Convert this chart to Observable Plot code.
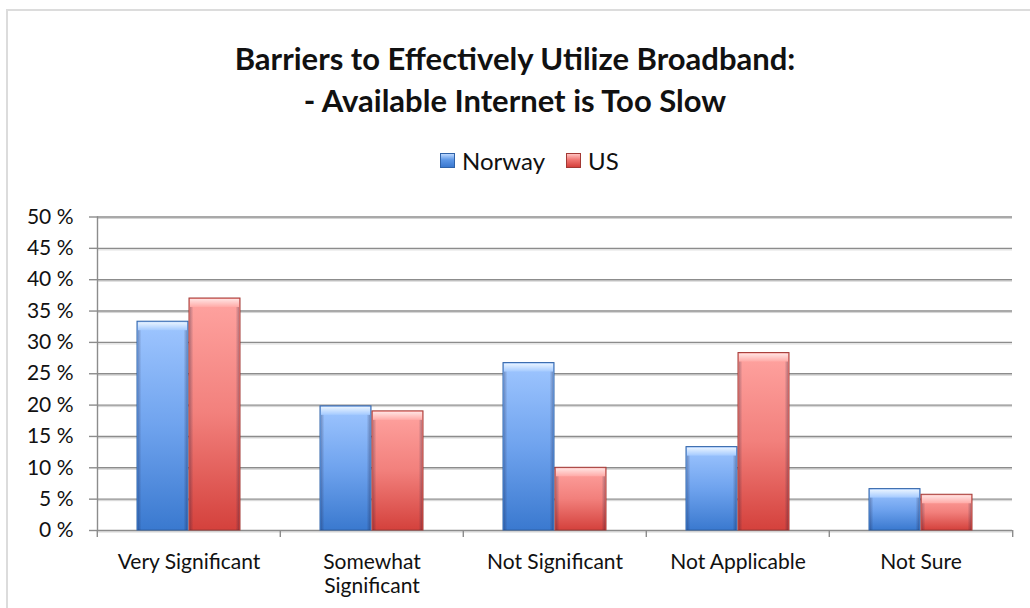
<!DOCTYPE html>
<html>
<head>
<meta charset="utf-8">
<script src="https://cdn.jsdelivr.net/npm/d3@7"></script>
<script src="https://cdn.jsdelivr.net/npm/@observablehq/plot@0.6"></script>
<style>
  html, body { margin: 0; padding: 0; background: #fff; }
  #page { position: relative; width: 1030px; height: 608px; overflow: hidden; font-family: Lato, "Open Sans", sans-serif; color: #111; }
  #border { position: absolute; left: 6px; top: 9px; width: 1100px; height: 700px; border: 2px solid #dcdcdc; box-sizing: border-box; }
  #title { position: absolute; left: 0; top: 37px; width: 1030px; text-align: center; font-weight: 700; font-size: 31px; line-height: 42px; }
  #legend { position: absolute; left: 440px; top: 147px; height: 26px; display: flex; align-items: center; font-size: 24px; }
  .sw { width: 15px; height: 15px; box-sizing: border-box; margin-right: 7px; }
  .sw.n { background: linear-gradient(#bcd8ff, #5d97e6 45%, #3a78cf); border: 1px solid #2f62a8; }
  .sw.u { background: linear-gradient(#ffc2c0, #f07571 45%, #d5403b); border: 1px solid #a23935; margin-left: 21px; }
  #chart { position: absolute; left: 0; top: 0; }
</style>
</head>
<body>
<div id="page">
  <div id="border"></div>
  <div id="title"></div>
  <div id="legend"></div>
  <div id="chart"></div>
</div>
<script>
// ---- data ----
const titleLines = ["Barriers to Effectively Utilize Broadband:", "- Available Internet is Too Slow"];
const categories = ["Very Significant", "Somewhat Significant", "Not Significant", "Not Applicable", "Not Sure"];
const categoryLabels = ["Very Significant", "Somewhat\nSignificant", "Not Significant", "Not Applicable", "Not Sure"];
const countries = ["Norway", "US"];
const norway = [33.3, 19.8, 26.7, 13.3, 6.6];
const us = [37.0, 19.0, 10.0, 28.3, 5.7];
const yTicks = [0, 5, 10, 15, 20, 25, 30, 35, 40, 45, 50];

// ---- table ----
const rows = [];
categories.forEach((c, i) => {
  rows.push({category: c, country: countries[0], value: norway[i]});
  rows.push({category: c, country: countries[1], value: us[i]});
});

// ---- title & legend ----
document.getElementById("title").innerHTML = titleLines.map(t => `<div>${t}</div>`).join("");
document.getElementById("legend").innerHTML =
  `<div class="sw n"></div><span>${countries[0]}</span><div class="sw u"></div><span>${countries[1]}</span>`;

// ---- chart ----
const W = 1030, H = 608, mT = 216.5, mB = 78, mL = 96, mR = 17;
const step = (W - mL - mR) / categories.length;
const axisGray = "#8c8c8c";
const font = "Lato, 'Open Sans', sans-serif";

const isN = d => d.country === countries[0];
const isU = d => d.country === countries[1];

const chart = Plot.plot({
  width: W, height: H,
  marginTop: mT, marginBottom: mB, marginLeft: mL, marginRight: mR,
  style: {fontFamily: font, fontSize: "21px", color: "#111", background: "transparent"},
  fx: {domain: categories, padding: 0, axis: null, label: null},
  x: {domain: countries, paddingInner: 0.02, paddingOuter: 0.74, axis: null},
  y: {domain: [0, 50], axis: null, label: null},
  marks: [
    Plot.gridY(yTicks, {stroke: "#d4d4d4", strokeOpacity: 1, strokeWidth: 1, dy: 1.5}),
    Plot.gridY(yTicks, {stroke: axisGray, strokeOpacity: 1, strokeWidth: 1.4}),
    Plot.frame({anchor: "left", facetAnchor: "left", stroke: axisGray, strokeWidth: 1.4}),
    // bars
    Plot.barY(rows, {filter: isN, fx: "category", x: "country", y: "value", fill: "url(#gN)", stroke: "#2f62a8", strokeWidth: 1}),
    Plot.barY(rows, {filter: isU, fx: "category", x: "country", y: "value", fill: "url(#gU)", stroke: "#a23935", strokeWidth: 1}),
    Plot.barY(rows, {filter: isN, fx: "category", x: "country", y: "value", fill: "url(#gSide)", insetTop: 1, insetLeft: 1, insetRight: 1}),
    Plot.barY(rows, {filter: isU, fx: "category", x: "country", y: "value", fill: "url(#gSide)", insetTop: 1, insetLeft: 1, insetRight: 1}),
    Plot.barY(rows, {filter: isN, fx: "category", x: "country", y1: "value", y2: "value", insetTop: 1, insetBottom: -9, insetLeft: 1, insetRight: 1, fill: "url(#gNtop)"}),
    Plot.barY(rows, {filter: isU, fx: "category", x: "country", y1: "value", y2: "value", insetTop: 1, insetBottom: -9, insetLeft: 1, insetRight: 1, fill: "url(#gUtop)"}),
    // y axis
    Plot.axisY({ticks: yTicks, anchor: "left", label: null, tickSize: 8, tickFormat: () => "", stroke: axisGray, strokeWidth: 1.4}),
    Plot.axisY({ticks: yTicks, anchor: "left", label: null, tickSize: 0, tickPadding: 24, tickFormat: d => d + " %", fontSize: 21, fill: "#111"}),
    // x axis: boundary ticks + centered labels
    Plot.axisFx({ticks: categories, anchor: "bottom", label: null, tickSize: 7, tickFormat: () => "", dx: -step / 2, stroke: axisGray, strokeWidth: 1.4}),
    Plot.axisFx({ticks: categories.slice(-1), anchor: "bottom", label: null, tickSize: 7, tickFormat: () => "", dx: step / 2, stroke: axisGray, strokeWidth: 1.4}),
    Plot.axisFx({ticks: categories, anchor: "bottom", label: null, tickSize: 0, tickPadding: 21, tickFormat: d => categoryLabels[categories.indexOf(d)], lineHeight: 1.15, fontSize: 21, fill: "#111"})
  ]
});

// gradient definitions
const defs = d3.select(chart).insert("defs", ":first-child");
function vgrad(id, stops) {
  const g = defs.append("linearGradient").attr("id", id).attr("x1", 0).attr("y1", 0).attr("x2", 0).attr("y2", 1);
  stops.forEach(([o, c, a]) => g.append("stop").attr("offset", o).attr("stop-color", c).attr("stop-opacity", a ?? 1));
}
vgrad("gN", [[0, "#9fc6ff"], [0.5, "#6fa3ee"], [1, "#3a79cf"]]);
vgrad("gU", [[0, "#ffa3a0"], [0.5, "#f2807c"], [1, "#d4413c"]]);
vgrad("gNtop", [[0, "#e8f3ff"], [1, "#a4caff"]]);
vgrad("gUtop", [[0, "#ffe3e2"], [1, "#ffaaa7"]]);
const side = defs.append("linearGradient").attr("id", "gSide").attr("x1", 0).attr("y1", 0).attr("x2", 1).attr("y2", 0);
[[0, 0.28], [0.07, 0], [0.93, 0], [1, 0.3]].forEach(([o, a]) =>
  side.append("stop").attr("offset", o).attr("stop-color", "#1a1a3a").attr("stop-opacity", a));

document.getElementById("chart").append(chart);
</script>
</body>
</html>
